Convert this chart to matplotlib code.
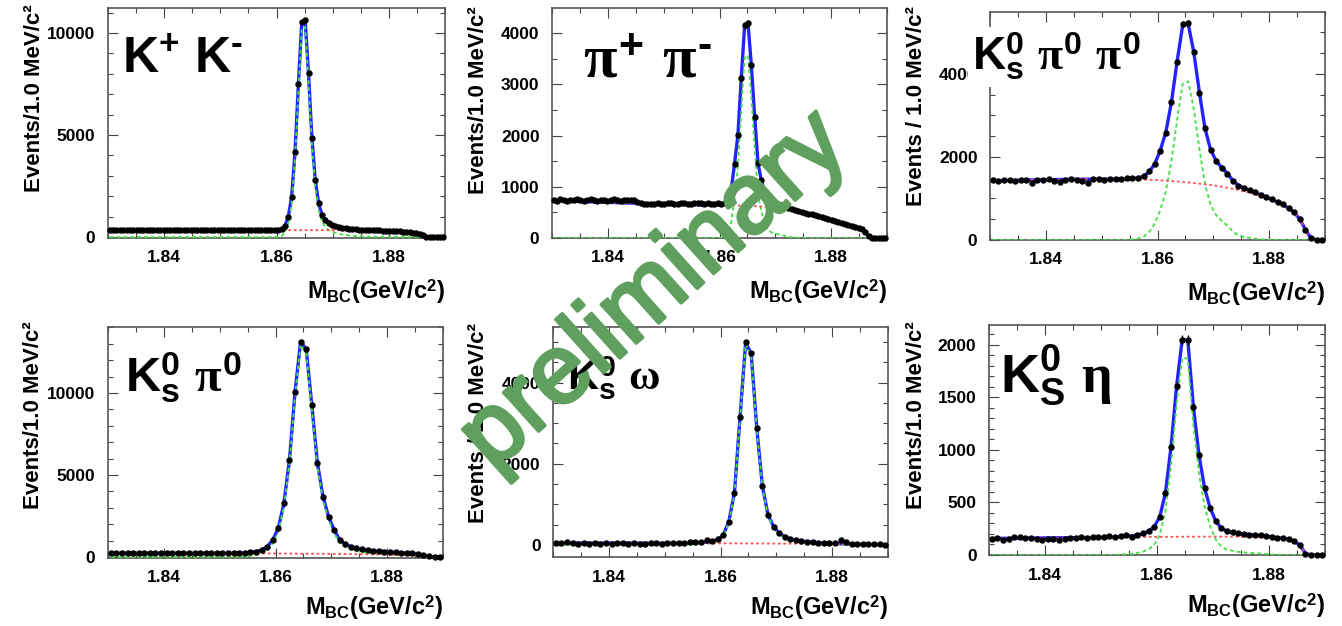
import numpy as np
import matplotlib
matplotlib.use("Agg")
import matplotlib.pyplot as plt
import matplotlib.patheffects as pe
from matplotlib.ticker import MultipleLocator, FormatStrFormatter

# ── 1. Fonts ───────────────────────────────────────────────────
plt.rcParams["font.family"] = ["Liberation Sans", "DejaVu Sans"]
plt.rcParams["font.weight"] = "bold"
plt.rcParams["mathtext.fontset"] = "custom"
plt.rcParams["mathtext.rm"] = "Liberation Sans:bold"
plt.rcParams["mathtext.bf"] = "Liberation Sans:bold"
plt.rcParams["mathtext.sf"] = "Liberation Sans:bold"
plt.rcParams["mathtext.it"] = "Liberation Serif"

# ── 2. Data: M_BC spectra, fit background and signal ───────────
# K+ K- and pi+ pi- : 100 bins over 1.83-1.89
counts_kk = [352, 340, 357, 345, 333, 349, 358, 338, 344, 355,
             347, 335, 351, 359, 342, 337, 353, 345, 360, 339,
             348, 355, 336, 343, 357, 350, 338, 345, 359, 352,
             340, 347, 356, 344, 337, 353, 361, 348, 342, 355,
             350, 346, 341, 357, 349, 352, 340, 348, 342, 350,
             355, 390, 540, 995, 1975, 4180, 7500, 10550, 10640, 8020,
             4870, 2790, 1650, 1080, 820, 670, 600, 530, 495, 450,
             430, 398, 392, 370, 366, 350, 352, 336, 338, 325,
             326, 314, 316, 302, 301, 288, 284, 265, 258, 233,
             215, 178, 140, 78, 6, 0, 0, 0, 0, 0]
bkg_kk = [348, 348, 348, 347, 347, 347, 347, 346, 346, 346,
          346, 345, 345, 345, 345, 344, 344, 344, 344, 343,
          343, 343, 343, 342, 342, 342, 342, 341, 341, 341,
          341, 340, 340, 340, 340, 339, 339, 339, 339, 338,
          338, 338, 338, 337, 337, 337, 337, 336, 336, 336,
          336, 335, 335, 335, 335, 334, 334, 334, 333, 333,
          333, 332, 332, 331, 331, 331, 330, 330, 329, 329,
          328, 327, 327, 326, 325, 324, 323, 321, 319, 317,
          314, 311, 307, 302, 296, 289, 280, 269, 255, 237,
          213, 181, 138, 80, 5, 0, 0, 0, 0, 0]
sig_kk = [0] * 48 + [
          3, 6,
          15, 50, 200, 660, 1640, 3845, 7165, 10215, 10305, 7687,
          4537, 2458, 1318, 750, 480, 345, 265, 205, 160, 125,
          97, 76, 60, 48, 38, 30, 24, 19, 15, 12,
          9, 7, 5, 4, 3, 2, 1, 0, 0, 0,
          0, 0, 0, 0, 0, 0, 0, 0, 0, 0]

counts_pp = [745, 730, 752, 738, 725, 748, 741, 760, 735, 728,
             744, 756, 739, 731, 750, 742, 727, 746, 758, 736,
             729, 747, 740, 733, 751, 700, 676, 662, 670, 655,
             668, 680, 672, 661, 675, 684, 668, 659, 677, 686,
             671, 664, 679, 688, 675, 668, 682, 673, 665, 680,
             660, 680, 760, 937, 1450, 2010, 3116, 4150, 4190, 3376,
             2367, 1457, 1132, 880, 760, 715, 690, 665, 640, 615,
             590, 570, 552, 534, 515, 497, 478, 459, 441, 421,
             403, 382, 366, 344, 329, 311, 290, 275, 254, 238,
             220, 198, 174, 116, 30, 0, 0, 0, 0, 0]
bkg_pp = [728, 726, 724, 722, 720, 718, 716, 714, 712, 710,
          708, 706, 704, 702, 700, 698, 696, 694, 692, 690,
          688, 686, 684, 682, 680, 678, 676, 674, 672, 670,
          668, 666, 664, 662, 660, 659, 658, 657, 656, 655,
          654, 653, 652, 651, 650, 649, 648, 647, 646, 645,
          644, 643, 641, 639, 637, 635, 633, 631, 629, 627,
          622, 618, 614, 610, 605, 600, 594, 588, 581, 574,
          565, 553, 540, 525, 509, 492, 474, 456, 438, 419,
          400, 381, 363, 345, 327, 309, 291, 273, 255, 237,
          219, 199, 172, 118, 28, 0, 0, 0, 0, 0]
sig_pp = [0] * 50 + [
          5, 30, 110, 300, 820, 1380, 2490, 3520, 3570, 2750,
          1750, 840, 510, 280, 160, 110, 90, 75, 58, 40,
          25, 15, 10, 6, 4, 2, 0, 0, 0, 0] + [0] * 20

# K0s modes : 60 bins of 1 MeV
counts_kspp = [1440, 1425, 1450, 1435, 1420, 1455, 1440, 1380, 1450, 1445,
               1460, 1430, 1390, 1455, 1470, 1445, 1425, 1380, 1460, 1470,
               1455, 1465, 1480, 1470, 1500, 1490, 1495, 1530, 1650, 1830,
               2150, 2580, 3320, 4280, 5200, 5220, 4520, 3550, 2690, 2170,
               1900, 1740, 1600, 1430, 1310, 1255, 1205, 1150, 1095, 1035,
               985, 920, 855, 770, 665, 505, 245, 45, 0, 0]
bkg_kspp = [1425, 1428, 1431, 1434, 1437, 1440, 1443, 1446, 1448, 1450,
            1452, 1454, 1456, 1458, 1460, 1461, 1462, 1463, 1464, 1465,
            1466, 1466, 1466, 1465, 1464, 1462, 1459, 1455, 1450, 1444,
            1437, 1429, 1420, 1410, 1398, 1385, 1371, 1357, 1342, 1326,
            1305, 1282, 1258, 1232, 1203, 1172, 1140, 1105, 1065, 1020,
            970, 910, 845, 765, 660, 500, 250, 40, 0, 0]
sig_kspp = [0] * 20 + [
            0, 0, 0, 0, 0, 15, 35, 80, 190, 390,
            720, 1170, 1900, 2880, 3760, 3820, 3150, 2200, 1350, 850,
            600, 460, 350, 200, 110, 75, 50, 32, 20, 12,
            6, 3, 0, 0, 0, 0, 0, 0, 0, 0]

counts_kspi0 = [240, 232, 245, 228, 236, 250, 231, 226, 242, 238,
                222, 235, 247, 230, 224, 239, 233, 221, 244, 236,
                229, 241, 252, 246, 265, 290, 335, 420, 640, 1040,
                1750, 3270, 5900, 10080, 13130, 12660, 9270, 5750, 3680, 2460,
                1650, 1040, 780, 630, 540, 470, 425, 390, 360, 335,
                310, 285, 262, 240, 215, 180, 120, 35, 0, 0]
bkg_kspi0 = [232, 232, 232, 231, 231, 231, 230, 230, 230, 229,
             229, 228, 228, 227, 227, 226, 226, 225, 224, 224,
             223, 222, 221, 220, 219, 218, 217, 216, 215, 213,
             212, 210, 208, 206, 204, 202, 200, 198, 195, 192,
             189, 186, 183, 179, 175, 171, 166, 161, 156, 150,
             144, 137, 129, 120, 109, 95, 70, 25, 0, 0]
sig_kspi0 = [0] * 20 + [
             2, 5, 10, 20, 35, 65, 115, 210, 420, 820,
             1540, 3060, 5690, 9870, 12930, 12460, 9070, 5550, 3490, 2270,
             1460, 860, 600, 450, 360, 295, 255, 225, 200, 180,
             160, 145, 130, 118, 105, 85, 50, 10, 0, 0]

counts_ksomega = [50, 35, 62, 48, 20, 55, 30, 45, 12, 40,
                  28, 52, 38, 15, 42, 30, 22, 48, 35, 18,
                  40, 50, 33, 45, 58, 65, 70, 120, 90, 140,
                  250, 574, 1290, 3160, 4990, 4720, 2870, 1450, 740, 450,
                  290, 200, 150, 120, 95, 80, 70, 55, 45, 40,
                  45, 110, 60, 30, 25, 15, 20, 10, 15, 8]
bkg_ksomega = [44, 44, 44, 44, 43, 43, 43, 43, 43, 42,
               42, 42, 42, 42, 41, 41, 41, 41, 40, 40,
               40, 40, 39, 39, 39, 38, 38, 38, 37, 37,
               36, 36, 35, 35, 34, 34, 33, 32, 32, 31,
               30, 29, 28, 27, 26, 25, 24, 23, 21, 20,
               18, 16, 14, 12, 10, 8, 5, 2, 0, 0]
sig_ksomega = [0] * 20 + [
               0, 0, 0, 0, 5, 10, 18, 30, 50, 90,
               210, 540, 1250, 3120, 4950, 4680, 2840, 1420, 710, 420,
               260, 170, 120, 90, 68, 52, 40, 30, 22, 16,
               12, 9, 7, 5, 4, 3, 2, 1, 0, 0]

counts_kseta = [150, 160, 145, 155, 168, 172, 158, 163, 150, 142,
                156, 148, 139, 152, 160, 166, 171, 164, 175, 168,
                172, 179, 170, 182, 188, 176, 195, 205, 225, 270,
                365, 590, 1030, 1610, 2050, 2045, 1410, 950, 635, 445,
                320, 255, 225, 215, 205, 198, 195, 190, 186, 180,
                172, 166, 158, 150, 133, 98, 12, 0, 0, 0]
bkg_kseta = [158, 158, 159, 159, 160, 160, 161, 161, 162, 162,
             163, 163, 164, 164, 165, 165, 166, 166, 167, 167,
             168, 168, 169, 169, 170, 170, 171, 171, 172, 172,
             173, 173, 173, 174, 174, 174, 174, 175, 175, 175,
             175, 175, 175, 175, 175, 174, 174, 173, 172, 170,
             167, 163, 157, 148, 130, 95, 15, 0, 0, 0]
sig_kseta = [0] * 20 + [
             0, 0, 2, 4, 8, 12, 20, 32, 55, 96,
             192, 416, 856, 1436, 1876, 1871, 1236, 776, 461, 271,
             146, 80, 50, 40, 30, 24, 21, 17, 14, 10,
             5, 3, 1, 0, 0, 0, 0, 0, 0, 0]

mass_fine = 1.8303 + 0.0006 * np.arange(100)
mass_1mev = 1.8305 + 0.001 * np.arange(60)

# ── 3. Layout (pixel boxes on a 1342 x 626 canvas) ─────────────
W, H = 1342, 626
fig = plt.figure(figsize=(W / 100, H / 100), dpi=100)
fig.patch.set_facecolor("white")


def fx(px):
    return px / W


def fy(py):
    return 1 - py / H


panels = [
    dict(box=(108, 8, 445, 238), mass=mass_fine, counts=counts_kk, bkg=bkg_kk, sig=sig_kk,
         ylim=(-50, 11230), major=5000, minor=1000,
         ylab="Events/1.0 MeV/c²", ylab_x=35, ylab_top=4, xlab_y=292,
         title=r"$\mathrm{K^{+}\ K^{\text{-}}}$", title_xy=(122, 73), title_size=36),
    dict(box=(552, 8, 887, 238), mass=mass_fine, counts=counts_pp, bkg=bkg_pp, sig=sig_pp,
         ylim=(0, 4490), major=1000, minor=500,
         ylab="Events/1.0 MeV/c²", ylab_x=478, ylab_top=6, xlab_y=292,
         title=r"$\pi^{+}\ \pi^{\text{-}}$", title_xy=(583, 78), title_size=44),
    dict(box=(990, 12, 1325, 240), mass=mass_1mev, counts=counts_kspp, bkg=bkg_kspp, sig=sig_kspp,
         ylim=(0, 5490), major=2000, minor=500,
         ylab="Events / 1.0 MeV/c²", ylab_x=916, ylab_top=6, xlab_y=294,
         title=r"$\mathrm{K}^{0}_{\mathrm{s}}\ \pi^{0}\ \pi^{0}$", title_xy=(972, 70),
         title_size=33, boxed=True),
    dict(box=(108, 327, 443, 558), mass=mass_1mev, counts=counts_kspi0, bkg=bkg_kspi0, sig=sig_kspi0,
         ylim=(-60, 14020), major=5000, minor=1000,
         ylab="Events/1.0 MeV/c²", ylab_x=34, ylab_top=321, xlab_y=608,
         title=r"$\mathrm{K}^{0}_{\mathrm{s}}\ \pi^{0}$", title_xy=(125, 392), title_size=35),
    dict(box=(553, 327, 888, 557), mass=mass_1mev, counts=counts_ksomega, bkg=bkg_ksomega, sig=sig_ksomega,
         ylim=(-300, 5370), major=2000, minor=500,
         ylab="Events / 1.0 MeV/c²", ylab_x=479, ylab_top=323, xlab_y=608,
         title=r"$\mathrm{K}^{0}_{\mathrm{s}}\ \omega$", title_xy=(567, 390), title_size=31),
    dict(box=(989, 325, 1325, 555), mass=mass_1mev, counts=counts_kseta, bkg=bkg_kseta, sig=sig_kseta,
         ylim=(0, 2190), major=500, minor=100,
         ylab="Events/1.0 MeV/c²", ylab_x=916, ylab_top=321, xlab_y=606,
         title=r"$\mathrm{K}^{0}_{\mathrm{S}}\ \eta$", title_xy=(1000, 392), title_size=39),
]

# ── 4. Panels ──────────────────────────────────────────────────
for p in panels:
    x0, y0, x1, y1 = p["box"]
    ax = fig.add_axes([fx(x0), fy(y1), (x1 - x0) / W, (y1 - y0) / H])

    counts = np.asarray(p["counts"], dtype=float)
    bkg = np.asarray(p["bkg"], dtype=float)
    sig = np.asarray(p["sig"], dtype=float)

    ax.plot(p["mass"], bkg + sig, color="#2323ff", lw=2.4, zorder=2)
    ax.plot(p["mass"], sig, color="#44e044", lw=1.3, ls=(0, (2.2, 1.6)), zorder=3)
    ax.plot(p["mass"], bkg, color="#ff5050", lw=1.3, ls=(0, (1.5, 1.5)), zorder=3)
    ax.errorbar(p["mass"], counts, yerr=np.sqrt(counts), fmt="o", ms=3.6,
                color="black", ecolor="black", elinewidth=1.0, capsize=0,
                zorder=4, clip_on=False)

    ax.set_xlim(1.83, 1.89)
    ax.set_ylim(*p["ylim"])
    ax.xaxis.set_major_locator(MultipleLocator(0.02))
    ax.xaxis.set_minor_locator(MultipleLocator(0.005))
    ax.xaxis.set_major_formatter(FormatStrFormatter("%.2f"))
    ax.yaxis.set_major_locator(MultipleLocator(p["major"]))
    ax.yaxis.set_minor_locator(MultipleLocator(p["minor"]))
    ax.yaxis.set_major_formatter(FormatStrFormatter("%d"))
    ax.tick_params(which="both", direction="in", top=True, right=True,
                   color="#444444", labelsize=12.5, width=0.8)
    ax.tick_params(which="major", length=7, pad=9)
    ax.tick_params(which="minor", length=3.5)
    for spine in ax.spines.values():
        spine.set_color("#555555")
        spine.set_linewidth(1.2)

    fig.text(fx(p["ylab_x"]), fy(p["ylab_top"]), p["ylab"], rotation=90,
             ha="center", va="top", fontsize=16, fontweight="bold")
    fig.text(fx(x1), fy(p["xlab_y"]), r"M$_{\mathrm{BC}}$(GeV/c$^{2}$)",
             ha="right", va="center", fontsize=17, fontweight="bold")

    tx, ty = p["title_xy"]
    box = dict(facecolor="white", edgecolor="none", pad=3) if p.get("boxed") else None
    fig.text(fx(tx), fy(ty), p["title"], ha="left", va="baseline",
             fontsize=p["title_size"], bbox=box, zorder=5)

# ── 5. Watermark ───────────────────────────────────────────────
fig.text(fx(655), fy(292), "preliminary", rotation=42, rotation_mode="anchor",
         ha="center", va="center", fontsize=71, fontweight="normal",
         color="#5fa05f", zorder=10,
         path_effects=[pe.withStroke(linewidth=2.5, foreground="#5fa05f")])

fig.savefig("out.png", dpi=100)
